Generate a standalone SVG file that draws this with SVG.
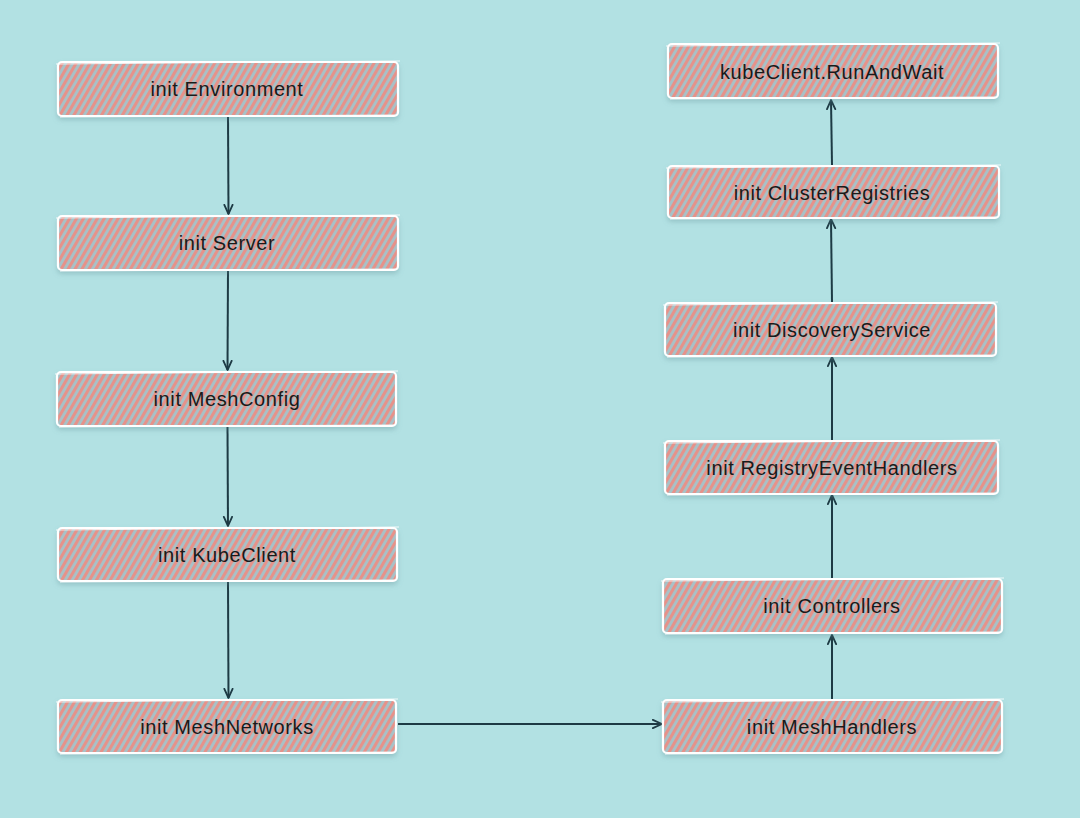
<svg xmlns="http://www.w3.org/2000/svg" width="1080" height="818" viewBox="0 0 1080 818">
<defs>
<pattern id="hatch" width="6" height="6" patternUnits="userSpaceOnUse" patternTransform="rotate(30)">
<rect width="6" height="6" fill="#a7c2c8"/>
<rect x="0" y="0" width="3.1" height="6" fill="#e6928a"/>
</pattern>
<filter id="sh" x="-5%" y="-20%" width="110%" height="150%">
<feDropShadow dx="0" dy="3" stdDeviation="2.5" flood-color="#5f8f94" flood-opacity="0.35"/>
</filter>
<marker id="ah" viewBox="0 0 12 12" refX="11" refY="6" markerWidth="11" markerHeight="11" markerUnits="userSpaceOnUse" orient="auto">
<path d="M1,1.5 L11,6 L1,10.5" fill="none" stroke="#1d3a44" stroke-width="2" stroke-linejoin="round" stroke-linecap="round"/>
</marker>
</defs>
<style>
.box{fill:url(#hatch);stroke:#ffffff;stroke-width:2.2;filter:url(#sh)}
.sk{fill:none;stroke:#ffffff;stroke-width:1.1;opacity:0.85}
.lbl{font-family:"Comic Sans MS","Liberation Sans",sans-serif;font-size:20px;letter-spacing:0.6px;fill:#1a1a1a;text-anchor:middle;dominant-baseline:central}
.con{fill:none;stroke:#1d3a44;stroke-width:2;marker-end:url(#ah)}
</style>
<rect width="1080" height="818" fill="#b2e1e3"/>

<g id="connectors">
<path class="con" d="M228,116 L228.5,214"/>
<path class="con" d="M228,271 L227.5,370"/>
<path class="con" d="M227.5,427 L228,526"/>
<path class="con" d="M228,582 L228.5,698"/>
<path class="con" d="M398,724 L662,724"/>
<path class="con" d="M832,700 L832,635"/>
<path class="con" d="M832,578 L832,495"/>
<path class="con" d="M832,441 L832,357"/>
<path class="con" d="M832,302 L831,219"/>
<path class="con" d="M832,165 L831,100"/>
</g>

<g id="n-env">
<rect class="box" x="58" y="62" width="340" height="54" rx="4"/>
<path class="sk" d="M56,64 L400,61 M60,117 L396,115"/>
<text class="lbl" x="227" y="89">init Environment</text>
</g>
<g id="n-server">
<rect class="box" x="58" y="216" width="340" height="54" rx="4"/>
<path class="sk" d="M56,218 L400,215 M60,271 L396,269"/>
<text class="lbl" x="227" y="243">init Server</text>
</g>
<g id="n-meshconfig">
<rect class="box" x="57" y="372" width="339" height="54" rx="4"/>
<path class="sk" d="M55,374 L398,371 M59,427 L394,425"/>
<text class="lbl" x="227" y="399">init MeshConfig</text>
</g>
<g id="n-kubeclient">
<rect class="box" x="58" y="528" width="339" height="53" rx="4"/>
<path class="sk" d="M56,530 L399,527 M60,582 L395,580"/>
<text class="lbl" x="227" y="555">init KubeClient</text>
</g>
<g id="n-meshnetworks">
<rect class="box" x="58" y="700" width="338" height="53" rx="4"/>
<path class="sk" d="M56,702 L398,699 M60,754 L394,752"/>
<text class="lbl" x="227" y="727">init MeshNetworks</text>
</g>

<g id="n-runandwait">
<rect class="box" x="668" y="44" width="330" height="54" rx="4"/>
<path class="sk" d="M666,46 L1000,43 M670,99 L996,97"/>
<text class="lbl" x="832" y="72">kubeClient.RunAndWait</text>
</g>
<g id="n-clusterregistries">
<rect class="box" x="668" y="166" width="331" height="52" rx="4"/>
<path class="sk" d="M666,168 L1001,165 M670,219 L997,217"/>
<text class="lbl" x="832" y="193">init ClusterRegistries</text>
</g>
<g id="n-discovery">
<rect class="box" x="665" y="303" width="331" height="53" rx="4"/>
<path class="sk" d="M663,305 L998,302 M667,357 L994,355"/>
<text class="lbl" x="832" y="330">init DiscoveryService</text>
</g>
<g id="n-registryevent">
<rect class="box" x="665" y="441" width="333" height="53" rx="4"/>
<path class="sk" d="M663,443 L1000,440 M667,495 L996,493"/>
<text class="lbl" x="832" y="468">init RegistryEventHandlers</text>
</g>
<g id="n-controllers">
<rect class="box" x="663" y="579" width="339" height="54" rx="4"/>
<path class="sk" d="M661,581 L1004,578 M665,634 L1000,632"/>
<text class="lbl" x="832" y="606">init Controllers</text>
</g>
<g id="n-meshhandlers">
<rect class="box" x="663" y="700" width="339" height="53" rx="4"/>
<path class="sk" d="M661,702 L1004,699 M665,754 L1000,752"/>
<text class="lbl" x="832" y="727">init MeshHandlers</text>
</g>
</svg>
